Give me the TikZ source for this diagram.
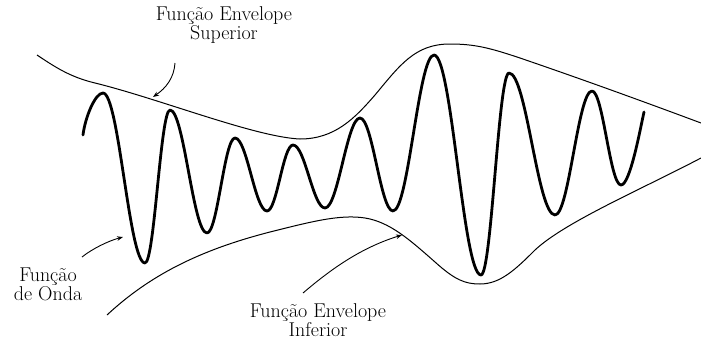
\documentclass[tikz,border=0pt]{standalone}
\usetikzlibrary{arrows.meta}
\begin{document}
\begin{tikzpicture}[x=1pt,y=-1pt,
  lbl/.style={align=center,inner sep=0pt,anchor=north,font=\fontsize{20}{16.5}\selectfont},
  env/.style={line width=1pt,line join=round},
  wave/.style={line width=2.8pt,line cap=round,line join=round},
  ptr/.style={line width=0.9pt,-{Stealth[length=6pt,width=4.5pt]}}]
\useasboundingbox (0,0) rectangle (701,340);
% upper envelope
\draw[env] (37,55) .. controls (55,67) and (70,77) .. (95,83)
 .. controls (160,99) and (255,137) .. (300,139)
 .. controls (335,139) and (355,118) .. (375,95)
 .. controls (400,65) and (415,44) .. (450,44)
 .. controls (475,44) and (490,48) .. (520,58)
 .. controls (590,82) and (650,104) .. (701,123);
% lower envelope
\draw[env] (107,315) .. controls (150,275) and (200,250) .. (270,232)
 .. controls (310,222) and (340,214) .. (365,218)
 .. controls (390,222) and (410,240) .. (435,262)
 .. controls (455,280) and (465,284) .. (480,284)
 .. controls (500,284) and (515,270) .. (535,250)
 .. controls (565,222) and (640,190) .. (701,158);
% wave
\draw[wave] (83,135) .. controls (85,118) and (95,93) .. (103,93)
 .. controls (119,93) and (129,263) .. (145,263)
 .. controls (154.5,263) and (160.5,110) .. (170,110)
 .. controls (184,110) and (193,233) .. (207,233)
 .. controls (217.6,233) and (224.4,138) .. (235,138)
 .. controls (247,138) and (255,211) .. (267,211)
 .. controls (277,211) and (283,145) .. (293,145)
 .. controls (305,145) and (313,208) .. (325,208)
 .. controls (338,208) and (347,118) .. (360,118)
 .. controls (372.5,118) and (380.5,211) .. (393,211)
 .. controls (408.5,211) and (418.5,55) .. (434,55)
 .. controls (452,55) and (463,275) .. (481,275)
 .. controls (491.6,275) and (498.4,73) .. (509,73)
 .. controls (526.5,73) and (537.5,215) .. (555,215)
 .. controls (569,215) and (578,91) .. (592,91)
 .. controls (603,91) and (610,185) .. (621,185)
 .. controls (630,185) and (640,130) .. (644,112);
% labels
\node[lbl] (sup) at (224,6.8) {Função Envelope\\Superior};
\node[lbl] (onda) at (48,267.8) {Função\\de Onda};
\node[lbl] (inf) at (318,303) {Função Envelope\\Inferior};
% arrow end points
\coordinate (s1) at (175,63);
\coordinate (t1) at (153,97);
\coordinate (s2) at (82,257);
\coordinate (t2) at (123,237);
\coordinate (s3) at (303,293);
\coordinate (t3) at (402,235);
\draw[ptr] (s1) .. controls (174,78) and (166,88) .. (t1);
\draw[ptr] (s2) .. controls (92,249) and (108,241) .. (t2);
\draw[ptr] (s3) .. controls (330,270) and (360,248) .. (t3);
\end{tikzpicture}
\end{document}
